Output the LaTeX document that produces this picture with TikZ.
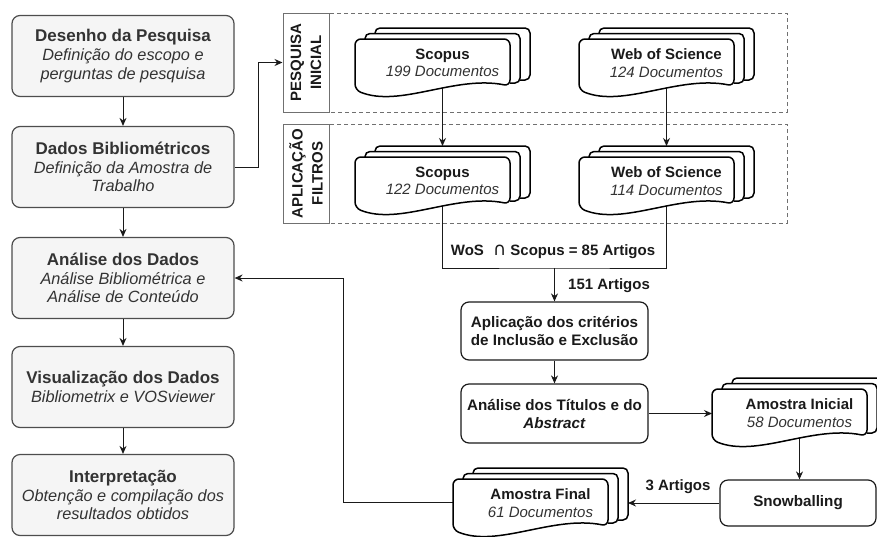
\documentclass[tikz,border=0pt]{standalone}
\usepackage{fontspec}
\setmainfont{Liberation Sans}
\newfontfamily\dejavu{DejaVu Sans}
\usetikzlibrary{arrows.meta}
\definecolor{boxfill}{HTML}{F5F5F5}
\definecolor{boxdraw}{HTML}{4D4D4D}
\definecolor{txt}{HTML}{333333}
\definecolor{dashc}{HTML}{707070}
\definecolor{ink}{HTML}{1A1A1A}
\tikzset{
 leftbox/.style={draw=boxdraw, fill=boxfill, rounded corners=8pt, line width=1.2pt, minimum width=222pt, minimum height=81pt, align=center, text=txt, inner sep=0pt, font=\fontsize{16.3}{18.8}\selectfont\itshape},
 whitebox/.style={draw=ink, fill=white, rounded corners=8pt, line width=1.2pt, align=center, inner sep=0pt, font=\fontsize{15.2}{18}\selectfont\bfseries, text=ink},
 labbox/.style={draw=dashc, fill=white, line width=1pt, rotate=90, minimum width=99pt, minimum height=46pt, inner sep=0pt, align=center, font=\fontsize{15}{20}\selectfont\bfseries, text=ink},
 dashbox/.style={draw=dashc, dash pattern=on 4pt off 3pt, line width=1pt},
 docbb/.style={minimum width=175pt, minimum height=68pt, inner sep=0pt, outer sep=0pt},
 doctext/.style={align=center, font=\fontsize{15}{17.5}\selectfont, inner sep=0pt, text=ink},
 docline/.style={draw=black, line width=1.5pt, fill=white, line join=round},
 conn/.style={draw=ink, line width=1pt, -{Stealth[length=8pt,width=7pt]}},
 plainline/.style={draw=ink, line width=1pt},
 lbl/.style={font=\fontsize{15}{18}\selectfont\bfseries, text=ink, inner sep=0pt},
}
\newcommand{\mdoc}[2]{%
\begin{scope}[shift={(#1,#2)}]
 \path[docline, rounded corners=5pt] (20,5.5) -- (20,0) -- (175,0) -- (175,52) -- (165,52);
 \path[docline, rounded corners=5pt] (10,11) -- (10,5.5) -- (165,5.5) -- (165,55) -- (155,55);
 \path[docline, rounded corners=6pt] (155,58) .. controls (100,47) and (45,80) .. (0,62) -- (0,11) -- (155,11) -- cycle;
\end{scope}}
\begin{document}
\begin{tikzpicture}[x=1pt,y=-1pt]
\useasboundingbox (0,0) rectangle (877,536);
\clip (0,0) rectangle (877,536);
% dashed groups
\draw[dashbox] (283,13) rectangle (787,112);
\draw[dashbox] (283,124) rectangle (787,223);
\node[labbox] (lab1) at (306,62.5) {PESQUISA\\INICIAL};
\node[labbox] (lab2) at (306,173.5) {APLICAÇÃO\\FILTROS};
% invisible bounding nodes of the document stacks
\node[docbb] (s1) at (442.5,62) {};
\node[docbb] (w1) at (666.5,62) {};
\node[docbb] (s2) at (442.5,180) {};
\node[docbb] (w2) at (666.5,180) {};
\node[docbb] (ai) at (799.5,412) {};
\node[docbb] (af) at (540.5,502) {};
% left column
\node[leftbox] (b1) at (123,56) {{\fontsize{17}{19}\selectfont\bfseries\upshape Desenho da Pesquisa}\\Definição do escopo e\\perguntas de pesquisa};
\node[leftbox] (b2) at (123,167) {{\fontsize{17}{19}\selectfont\bfseries\upshape Dados Bibliométricos}\\Definição da Amostra de\\Trabalho};
\node[leftbox] (b3) at (123,278) {{\fontsize{17}{19}\selectfont\bfseries\upshape Análise dos Dados}\\Análise Bibliométrica e\\Análise de Conteúdo};
\node[leftbox] (b4) at (123,387) {{\fontsize{17}{19}\selectfont\bfseries\upshape Visualização dos Dados}\\Bibliometrix e VOSviewer};
\node[leftbox] (b5) at (123,495) {{\fontsize{17}{19}\selectfont\bfseries\upshape Interpretação}\\Obtenção e compilação dos\\resultados obtidos};
% right boxes
\node[whitebox, minimum width=187pt, minimum height=58pt] (apl) at (554.5,331) {Aplicação dos critérios\\de Inclusão e Exclusão};
\node[whitebox, minimum width=187pt, minimum height=59pt] (ana) at (554.5,413.5) {Análise dos Títulos e do\\\textit{Abstract}};
\node[whitebox, minimum width=156pt, minimum height=46pt] (snow) at (798,503) {Snowballing};
\coordinate (j) at (554.5,268);
% connectors
\draw[conn] (b1) -- (b2);
\draw[conn] (b2) -- (b3);
\draw[conn] (b3) -- (b4);
\draw[conn] (b4) -- (b5);
\draw[conn] (b2.east) -- ++(24,0) |- (lab1.north);
\draw[conn] (s1.center) -- (s2.north);
\draw[conn] (w1.center) -- (w2.north);
\draw[plainline] (s2.center) |- (j) -| (w2.center);
\draw[conn] (j) -- (apl.north);
\draw[conn] (apl) -- (ana);
\draw[conn] (ana.east) -- (ana.east -| ai.west);
\draw[conn] (ai.center) -- (ai.center |- snow.north);
\draw[conn] (snow.west) -- (snow.west -| af.east);
\draw[conn] (af.west) -- ++(-110,0) |- (b3.east);
% document stacks
\mdoc{355}{28}
\mdoc{579}{28}
\mdoc{355}{146}
\mdoc{579}{146}
\mdoc{712}{378}
\mdoc{453}{468}
\node[doctext] at ([yshift=-1pt]s1.center) {\textbf{Scopus}\\\textit{\color{txt}199 Documentos}};
\node[doctext] at ([yshift=-1pt]w1.center) {\textbf{Web of Science}\\\textit{\color{txt}124 Documentos}};
\node[doctext] at ([yshift=-1pt]s2.center) {\textbf{Scopus}\\\textit{\color{txt}122 Documentos}};
\node[doctext] at ([yshift=-1pt]w2.center) {\textbf{Web of Science}\\\textit{\color{txt}114 Documentos}};
\node[doctext] at ([yshift=-1pt]ai.center) {\textbf{Amostra Inicial}\\\textit{\color{txt}58 Documentos}};
\node[doctext] at ([yshift=-1pt]af.center) {\textbf{Amostra Final}\\\textit{\color{txt}61 Documentos}};
% labels
\node[lbl] (wos) at (553,252) {WoS\,\, {\dejavu\mdseries\fontsize{18}{18}\selectfont ∩} Scopus = 85 Artigos};
\node[lbl, anchor=west] (l151) at (568,286) {151 Artigos};
\node[lbl] (l3) at (678,487) {3 Artigos};
\end{tikzpicture}
\end{document}
